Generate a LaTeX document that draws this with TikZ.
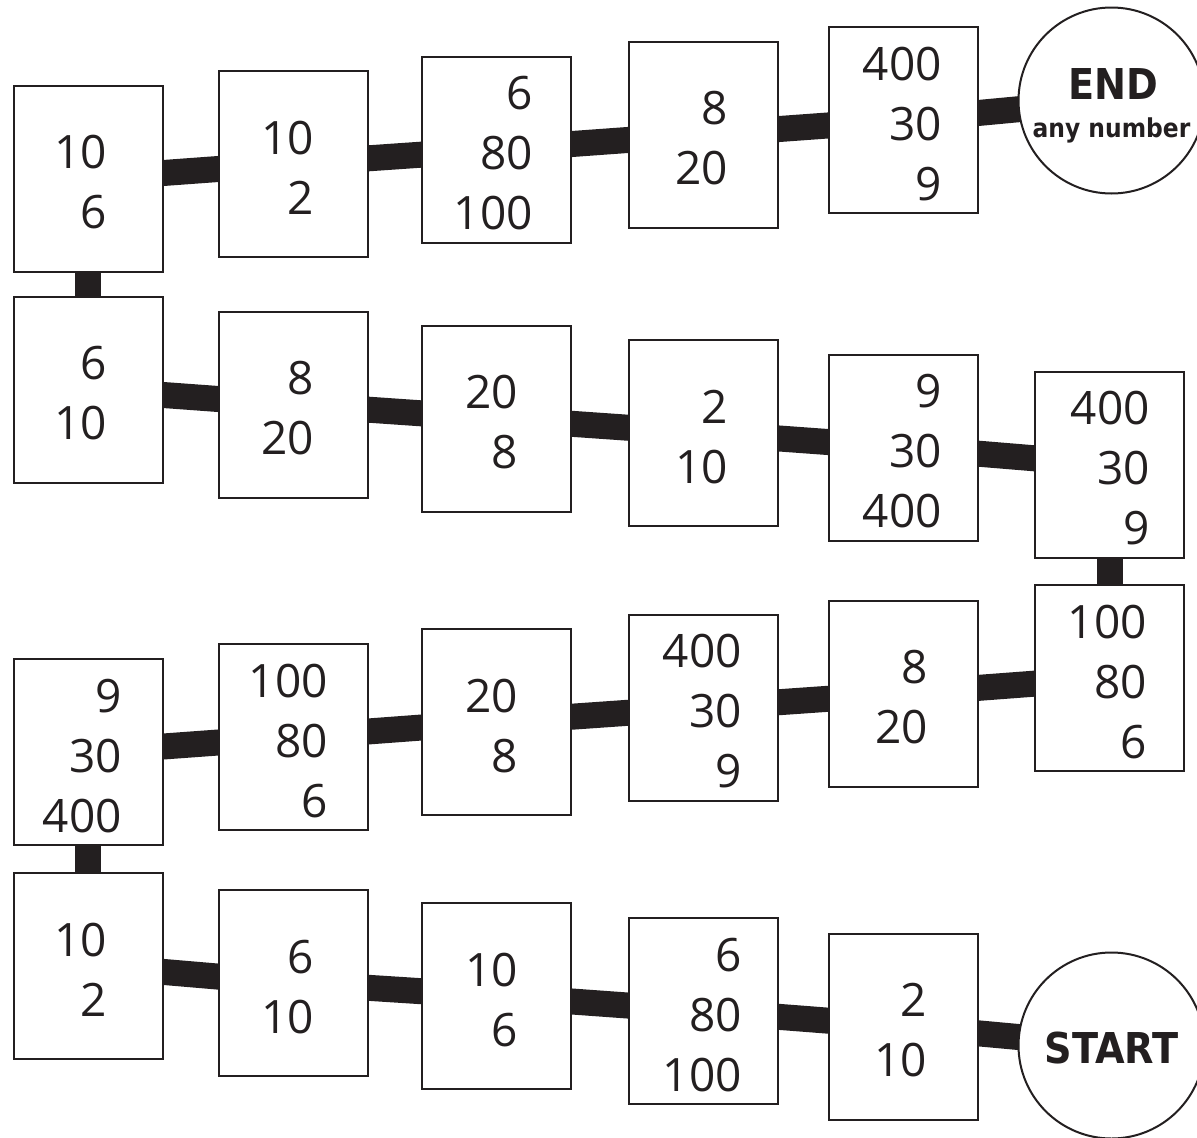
\documentclass[tikz,border=0pt]{standalone}
\usepackage{fontspec}
\setmainfont{Open Sans}
\newfontfamily\lblfont{DejaVu Sans Condensed}
\usetikzlibrary{backgrounds}
\definecolor{ink}{HTML}{231F20}
\newcommand\bx[5]{\node[box] (#1) at (#2,#3) {}; \node[num] (#1t) at (#4,#3+4) {#5};}
\begin{document}
\begin{tikzpicture}[x=1pt,y=-1pt,
 box/.style={draw=ink,line width=2pt,fill=white,minimum width=149pt,minimum height=186pt,inner sep=0pt,outer sep=0pt},
 num/.style={text=ink,font=\fontsize{46}{60}\selectfont,align=right,inner sep=0pt,anchor=east},
 ring/.style={draw=ink,line width=2pt,fill=white,circle,minimum size=186pt,inner sep=0pt},
 big/.style={text=ink,font=\lblfont\bfseries\fontsize{42.5}{50}\selectfont,inner sep=0pt,anchor=base},
 small/.style={text=ink,font=\lblfont\bfseries\fontsize{26}{30}\selectfont,inner sep=0pt,anchor=base},
 conn/.style={draw=ink,line width=26pt}]
\useasboundingbox (0,0) rectangle (1197,1138);
\clip (0,0) rectangle (1197,1138);
% row 1
\bx{a1}{88}{178.5}{107}{10\\6}
\bx{a2}{293.5}{163.5}{314}{10\\2}
\bx{a3}{496}{149.5}{533}{6\\80\\100}
\bx{a4}{703.5}{134.5}{728}{8\\20}
\bx{a5}{903.5}{120}{942}{400\\30\\9}
\node[ring] (end) at (1111.5,100.5) {};
\node[big] (endt) at (1113,99) {END};
\node[small] (endn) at (1111.5,137) {any number};
% row 2
\bx{b1}{88}{389.5}{107}{6\\10}
\bx{b2}{293.5}{404.5}{314}{8\\20}
\bx{b3}{496}{418.5}{518}{20\\8}
\bx{b4}{703.5}{433}{728}{2\\10}
\bx{b5}{903.5}{447.5}{942}{9\\30\\400}
\bx{b6}{1109.5}{464.5}{1150}{400\\30\\9}
% row 3
\bx{c6}{1109.5}{678}{1147}{100\\80\\6}
\bx{c5}{903.5}{693.5}{928}{8\\20}
\bx{c4}{703.5}{707.5}{742}{400\\30\\9}
\bx{c3}{496}{722}{518}{20\\8}
\bx{c2}{293.5}{737}{328}{100\\80\\6}
\bx{c1}{88}{752}{122}{9\\30\\400}
% row 4
\bx{d1}{88}{965.5}{107}{10\\2}
\bx{d2}{293.5}{983}{314}{6\\10}
\bx{d3}{496}{996}{518}{10\\6}
\bx{d4}{703.5}{1011}{742}{6\\80\\100}
\bx{d5}{903.5}{1026.5}{927}{2\\10}
\node[ring] (start) at (1111.5,1045.5) {};
\node[big] (startt) at (1111.5,1063) {START};
\begin{scope}[on background layer]
\fill[white] (0,0) rectangle (1197,1138);
\draw[conn] (start.center) -- (d5.center) -- (d4.center) -- (d3.center) -- (d2.center) -- (d1.center);
\draw[conn] (d1.center) -- (c1.center);
\draw[conn] (c1.center) -- (c2.center) -- (c3.center) -- (c4.center) -- (c5.center) -- (c6.center);
\draw[conn] (c6.center) -- (b6.center);
\draw[conn] (b6.center) -- (b5.center) -- (b4.center) -- (b3.center) -- (b2.center) -- (b1.center);
\draw[conn] (b1.center) -- (a1.center);
\draw[conn] (a1.center) -- (a2.center) -- (a3.center) -- (a4.center) -- (a5.center) -- (end.center);
\end{scope}
\end{tikzpicture}
\end{document}
